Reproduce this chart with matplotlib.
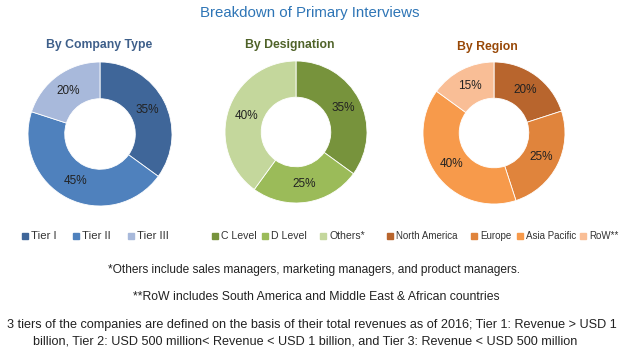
import matplotlib
matplotlib.use("Agg")
import matplotlib.pyplot as plt

W, H = 626, 361
title = "Breakdown of Primary Interviews"

company_labels = ["Tier I", "Tier II", "Tier III"]
company_values = [35, 45, 20]
designation_labels = ["C Level", "D Level", "Others*"]
designation_values = [35, 25, 40]
region_labels = ["North America", "Europe", "Asia Pacific", "RoW**"]
region_values = [20, 25, 40, 15]

company_colors = ["#3F6699", "#4F81BD", "#A8B9DB"]
designation_colors = ["#77933C", "#9BBB59", "#C4D79C"]
region_colors = ["#B8652D", "#E0843C", "#F79A4B", "#F9BE96"]

note1 = "*Others include sales managers, marketing managers, and product managers."
note2 = "**RoW includes South America and Middle East & African countries"
note3a = "3 tiers of the companies are defined on the basis of their total revenues as of 2016; Tier 1: Revenue > USD 1"
note3b = "billion, Tier 2: USD 500 million< Revenue < USD 1 billion, and Tier 3: Revenue < USD 500 million"

FONT = "Liberation Sans"
fig = plt.figure(figsize=(W / 100, H / 100), dpi=100)
fig.patch.set_facecolor("white")


def px(x, y):
    return x / W, 1 - y / H


def donut(cx, cy, r, values, colors):
    ax = fig.add_axes([(cx - r) / W, 1 - (cy + r) / H, 2 * r / W, 2 * r / H])
    ax.pie(values, colors=colors, startangle=90, counterclock=False,
           autopct="%d%%", pctdistance=0.74, radius=1,
           wedgeprops=dict(width=0.51, edgecolor="white", linewidth=0.6),
           textprops=dict(fontsize=8.5, color="#222222", family=FONT))
    ax.set_xlim(-1, 1)
    ax.set_ylim(-1, 1)
    ax.set_aspect("equal")
    ax.axis("off")


donut(100, 134, 72, company_values, company_colors)
donut(296, 132, 71, designation_values, designation_colors)
donut(494, 133, 71, region_values, region_colors)

fig.text(*px(310, 13), title, ha="center", va="center", fontsize=10.8,
         color="#2E75B6", family=FONT)
fig.text(*px(99, 45), "By Company Type", ha="center", va="center", fontsize=8.8,
         fontweight="bold", color="#3E5F8A", family=FONT)
fig.text(*px(290, 45), "By Designation", ha="center", va="center", fontsize=8.8,
         fontweight="bold", color="#4F6228", family=FONT)
fig.text(*px(487, 47), "By Region", ha="center", va="center", fontsize=8.8,
         fontweight="bold", color="#984807", family=FONT)


def legend_row(labels, colors, xs, y, fs):
    for lab, col, x in zip(labels, colors, xs):
        fig.add_artist(plt.Rectangle((x / W, 1 - (y + 3) / H), 6 / W, 6 / H,
                                     transform=fig.transFigure, color=col))
        fig.text(*px(x + 9, y), lab, ha="left", va="center", fontsize=fs,
                 color="#333333", family=FONT)


legend_row(company_labels, company_colors, [22, 73, 128], 236, 8.2)
legend_row(designation_labels, designation_colors, [212, 262, 320], 236, 7.6)
legend_row(region_labels, region_colors, [387, 471, 517, 580], 236, 7)

fig.text(*px(314, 270), note1, ha="center", va="center", fontsize=8.6,
         color="#222222", family=FONT)
fig.text(*px(316, 297), note2, ha="center", va="center", fontsize=8.8,
         color="#222222", family=FONT)
fig.text(*px(312, 325), note3a, ha="center", va="center", fontsize=9.1,
         color="#222222", family=FONT)
fig.text(*px(305, 342), note3b, ha="center", va="center", fontsize=9.1,
         color="#222222", family=FONT)

fig.savefig("out.png", dpi=100, facecolor="white")
